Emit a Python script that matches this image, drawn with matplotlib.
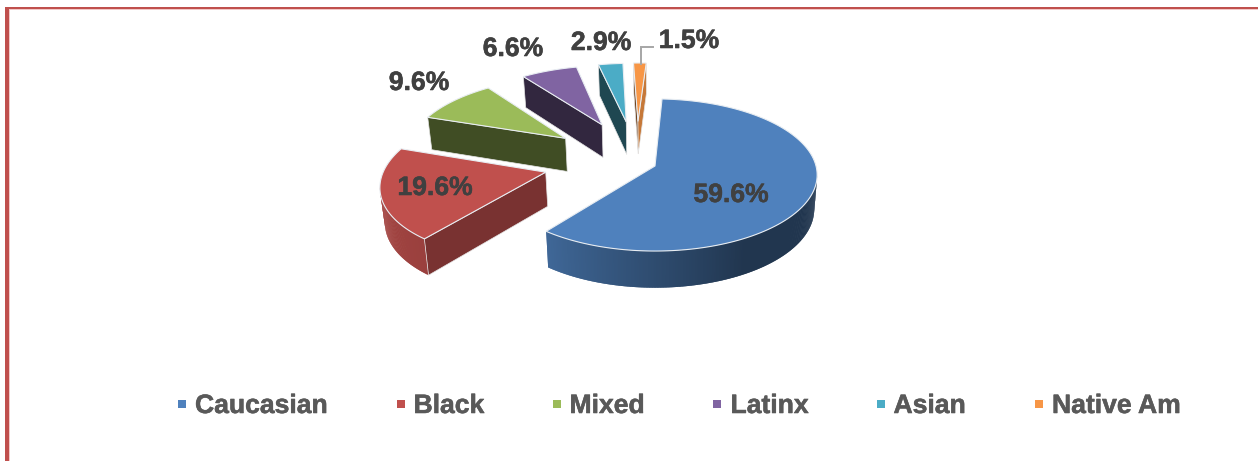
#!/usr/bin/env python
"""
Exploded 3D pie of sample ethnicity shares, with a legend row below
"""
import numpy as np
import matplotlib
matplotlib.use("Agg")
import matplotlib.pyplot as plt
import matplotlib.patheffects as pe
from matplotlib.patches import Polygon, Rectangle

categories = ["Caucasian", "Black", "Mixed", "Latinx", "Asian", "Native Am"]
shares = [59.6, 19.6, 9.6, 6.6, 2.9, 1.5]
share_labels = ["59.6%", "19.6%", "9.6%", "6.6%", "2.9%", "1.5%"]

colors = ["#4f81bd", "#c0504d", "#9bbb59", "#8064a2", "#4bacc6", "#f79646"]
explode = [0.10, 0.59, 0.60, 0.61, 0.605, 0.605]
# 各扇形分离方向相对角平分线的偏转(度)
explode_skew = [0, 5.5, 0, 0, -1.5, -2]
# darkening of the two radial walls of each slice (first edge, last edge)
wall_shade = [(0.5, 0.5), (0.63, 0.5), (0.41, 0.5), (0.39, 0.5), (0.41, 0.5), (0.45, 0.8)]

W, H = 1258, 461
START_DEG = 2.8
CX, CY = 655, 166     # apex of the largest slice on screen
RX, RY = 161, 75
PERSP = 0.118
DEPTH = 34
SHRINK = 0.018

label_xy = [(731, 195), (435, 188), (419, 83), (513, 49), (601, 43), (689, 41)]
legend_marker_x = [178, 397, 553, 713, 877, 1035]
legend_text_x = [195, 413.5, 569.5, 730.5, 893.5, 1052]

plt.rcParams["font.family"] = ["Liberation Sans", "DejaVu Sans"]


def project(u, v, drop=0.0):
    """透视投影: 世界坐标 (u, v) -> 屏幕像素, drop=1 为底面"""
    w = 1 + PERSP * v
    x = CX + RX * u / w * (1 - SHRINK * drop)
    y = CY - RY * v / w + drop * DEPTH / w ** 0.6
    return np.column_stack([x, y])


def direction(deg):
    rad = np.radians(deg)
    return np.array([np.sin(rad), np.cos(rad)])


def wall_factor(deg):
    # 外侧面亮度随角度变化
    return np.interp(deg, [0, 150, 217, 288], [0.42, 0.42, 0.8, 0.92])


def shade(color, factor):
    return tuple(c * factor for c in matplotlib.colors.to_rgb(color))


def draw_slice(ax, start, end, offset, color, shades):
    angles = np.linspace(start, end, max(int(end - start) * 2, 4))
    rim = np.array([direction(a) for a in angles]) + offset
    top_rim = project(rim[:, 0], rim[:, 1])
    bot_rim = project(rim[:, 0], rim[:, 1], 1.0)
    apex_top = project(offset[0], offset[1])
    apex_bot = project(offset[0], offset[1], 1.0)

    # 外侧弧面: 只画朝向观察者的部分, 每段多盖一格避免接缝
    for i in range(len(angles) - 1):
        if top_rim[i + 1, 0] < top_rim[i, 0]:
            j = min(i + 2, len(angles) - 1)
            quad = [top_rim[i], top_rim[j], bot_rim[j], bot_rim[i]]
            c = shade(color, wall_factor(angles[i]))
            ax.add_patch(Polygon(quad, closed=True, fc=c, ec="none"))

    # 径向侧面
    first_visible = top_rim[0, 0] < apex_top[0, 0]
    last_visible = top_rim[-1, 0] > apex_top[0, 0]
    if first_visible:
        quad = [apex_top[0], top_rim[0], bot_rim[0], apex_bot[0]]
        ax.add_patch(Polygon(quad, closed=True, fc=shade(color, shades[0]),
                             ec="#e4e4e4", lw=0.5))
    if last_visible:
        quad = [apex_top[0], top_rim[-1], bot_rim[-1], apex_bot[0]]
        ax.add_patch(Polygon(quad, closed=True, fc=shade(color, shades[1]),
                             ec="#e4e4e4", lw=0.5))

    # 顶面
    top = np.vstack([apex_top, top_rim])
    ax.add_patch(Polygon(top, closed=True, fc=color, ec="#e8edf2", lw=0.8,
                         joinstyle="miter"))


fig = plt.figure(figsize=(W / 100, H / 100), dpi=100)
ax = fig.add_axes([0, 0, 1, 1])
ax.set_xlim(0, W)
ax.set_ylim(H, 0)
ax.axis("off")

# 外框: 上边和左边
ax.add_patch(Rectangle((5, 7), W - 5, 2.3, fc="#c0504d", ec="none"))
ax.add_patch(Rectangle((5, 7), 4, H - 7, fc="#c0504d", ec="none"))
ax.add_patch(Rectangle((9, 9.3), W - 9, 1.2, fc="#f2c9c8", ec="none"))
ax.add_patch(Rectangle((9, 9.3), 1.2, H - 9.3, fc="#f2c9c8", ec="none"))

total = sum(shares)
sweeps = [s / total * 360 for s in shares]
starts = START_DEG + np.concatenate([[0], np.cumsum(sweeps)[:-1]])

# 以最大扇形的尖端为屏幕基准
base = explode[0] * direction(starts[0] + sweeps[0] / 2)
for i in range(len(shares) - 1, -1, -1):
    mid = starts[i] + sweeps[i] / 2 + explode_skew[i]
    offset = explode[i] * direction(mid) - base
    draw_slice(ax, starts[i], starts[i] + sweeps[i], offset, colors[i], wall_shade[i])

for text, (x, y) in zip(share_labels, label_xy):
    ax.text(x, y, text, fontsize=19.1, fontweight="bold", color="#404040",
            ha="center", va="center",
            path_effects=[pe.withStroke(linewidth=0.4, foreground="#404040")])

# 最小扇形的引线
ax.plot([641, 641, 653], [64, 47, 47], color="#a6a6a6", lw=1.4, solid_joinstyle="miter")

for name, color, mx, tx in zip(categories, colors, legend_marker_x, legend_text_x):
    ax.add_patch(Rectangle((mx, 400), 8, 8, fc=color, ec="none"))
    ax.text(tx, 406, name, fontsize=19.1, fontweight="bold", color="#595959",
            ha="left", va="center",
            path_effects=[pe.withStroke(linewidth=0.4, foreground="#595959")])

fig.savefig("out.png", dpi=100)
plt.close(fig)
